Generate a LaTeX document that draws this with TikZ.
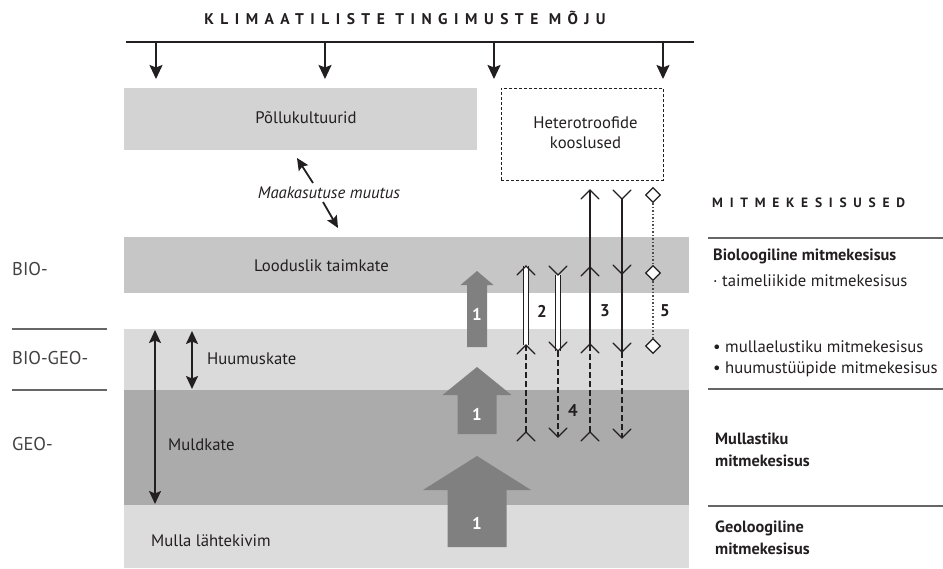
\documentclass[tikz,border=0pt]{standalone}
\usepackage{fontspec}
\setmainfont{PT Sans}
\usetikzlibrary{arrows.meta,shapes.geometric}
\definecolor{gPol}{HTML}{D3D3D3}
\definecolor{gLoo}{HTML}{C6C6C6}
\definecolor{gHuu}{HTML}{DADADA}
\definecolor{gMul}{HTML}{ABABAB}
\definecolor{gLah}{HTML}{DCDCDC}
\definecolor{gArr}{HTML}{808080}
\definecolor{ink}{HTML}{231F20}
\definecolor{rule}{HTML}{666666}
\begin{document}
\begin{tikzpicture}[x=1pt,y=-1pt,
  lbl/.style={font=\fontsize{16.7}{20}\selectfont, text=ink, inner sep=0pt},
  blbl/.style={font=\fontsize{16.3}{22}\bfseries\selectfont, text=ink, inner sep=0pt, align=left},
  side/.style={font=\fontsize{18.5}{20}\selectfont, text=ink!85, inner sep=0pt, anchor=west},
  num/.style={font=\fontsize{17}{18}\bfseries\selectfont, text=ink, inner sep=0pt},
  one/.style={font=\fontsize{17}{18}\bfseries\selectfont, text=white, inner sep=0pt},
  band/.style={inner sep=0pt, outer sep=0pt, anchor=north west},
  solidarr/.style={line width=1.9pt, ink, -{Stealth[length=14pt,width=13pt,inset=2.5pt]}},
  twoarr/.style={line width=1.8pt, ink, {Stealth[length=13pt,width=12pt,inset=2.5pt]}-{Stealth[length=13pt,width=12pt,inset=2.5pt]}},
  thin/.style={line width=1.3pt, ink},
  dbl/.style={line width=1.3pt, ink, double=white, double distance=3.5pt},
  dsh/.style={line width=1.3pt, ink, dash pattern=on 6pt off 3pt},
  dot/.style={line width=1.2pt, ink!80, dash pattern=on 1.5pt off 2pt},
  dia/.style={diamond, draw=ink, line width=1.3pt, fill=white, inner sep=0pt, minimum width=15pt, minimum height=15pt},
  bigarr/.style={fill=gArr, draw=none},
  sep/.style={line width=1.4pt, rule},
  upbarb/.pic={\draw[thin, line cap=round, line join=miter] (-9,9) -- (0,0) -- (9,9);},
  dnbarb/.pic={\draw[thin, line cap=round, line join=miter] (-9,-9) -- (0,0) -- (9,-9);}
]
\useasboundingbox (0,0) rectangle (943,568);

% ---- bands ----
\node[band, fill=gPol, minimum width=353pt, minimum height=62pt] (pol) at (124,88) {};
\node[lbl] (poltxt) at (306,118) {Põllukultuurid};
\node[band, fill=gLoo, minimum width=565pt, minimum height=56pt] (loo) at (124,237) {};
\node[band, fill=gHuu, minimum width=565pt, minimum height=61pt] (huu) at (124,329) {};
\node[band, fill=gMul, minimum width=565pt, minimum height=115pt] (mul) at (124,390) {};
\node[band, fill=gLah, minimum width=565pt, minimum height=63pt] (lah) at (124,505) {};
\node[lbl] (lootxt) at (321.5,266) {Looduslik taimkate};
\node[lbl, anchor=west] (huutxt) at (207,359) {Huumuskate};
\node[lbl, anchor=west] (multxt) at (168,445) {Muldkate};
\node[lbl, anchor=west] (lahtxt) at (151,541) {Mulla lähtekivim};

% ---- heterotroofide ----
\node[draw=ink, line width=0.9pt, dash pattern=on 3pt off 2pt, minimum width=162pt, minimum height=92pt, inner sep=0pt, anchor=north west] (het) at (501,88) {};
\node[lbl, align=center, font=\fontsize{16.7}{20}\selectfont] (hettxt) at (585.5,132.5) {Heterotroofide\\kooslused};

% ---- title and climate arrows ----
\node[font=\fontsize{15.5}{18}\bfseries\addfontfeatures{LetterSpace=42}\selectfont, text=ink, inner sep=0pt] (title) at (405,18) {KLIMAATILISTE TINGIMUSTE MÕJU};
\coordinate (tl) at (126,42);
\coordinate (tr) at (694,42);
\draw[line width=2.4pt, ink] (tl) -- (tr);
\foreach \x/\n in {156/a,325/b,494/c,663/d}{
  \coordinate (top\n) at (\x,42);
  \coordinate (tip\n) at (\x,79);
  \draw[solidarr] (top\n) -- (tip\n);
}

% ---- land use change ----
\node[lbl, font=\fontsize{16.7}{20}\itshape\selectfont] (maa) at (329,193) {Maakasutuse muutus};
\coordinate (m1a) at (313,183); \coordinate (m1b) at (297,158);
\coordinate (m2a) at (323,202); \coordinate (m2b) at (338,228);
\draw[line width=1.8pt, ink, -{Stealth[length=12pt,width=11pt,inset=2pt]}] (m1a) -- (m1b);
\draw[line width=1.8pt, ink, -{Stealth[length=12pt,width=11pt,inset=2pt]}] (m2a) -- (m2b);

% ---- left soil arrows ----
\coordinate (md1) at (155,330); \coordinate (md2) at (155,504);
\coordinate (hu1) at (192,331); \coordinate (hu2) at (192,389);
\draw[twoarr] (md1) -- (md2);
\draw[twoarr] (hu1) -- (hu2);

% ---- big arrows 1 ----
\fill[bigarr] (477,271) -- (493.5,285) -- (487,285) -- (487,347) -- (467,347) -- (467,285) -- (460.5,285) -- cycle;
\fill[bigarr] (477,367) -- (511.5,395) -- (496.5,395) -- (496.5,434) -- (457.5,434) -- (457.5,395) -- (442.5,395) -- cycle;
\fill[bigarr] (477,456) -- (531,490) -- (506.5,490) -- (506.5,547) -- (447.5,547) -- (447.5,490) -- (423,490) -- cycle;
\node[one] (one1) at (477,314) {1};
\node[one] (one2) at (477,414) {1};
\node[one] (one3) at (477,523) {1};

% ---- arrows 2 ----
\coordinate (a2t) at (526,266); \coordinate (a2m) at (526,345); \coordinate (a2b) at (526,432);
\draw[dbl] (a2m) -- (a2t);
\draw[dsh] (a2b) -- (a2m);
\pic at (a2t) {upbarb};
\pic at (a2m) {upbarb};
\pic at (a2b) {upbarb};
\coordinate (b2t) at (558,275); \coordinate (b2m) at (558,351); \coordinate (b2b) at (558,437);
\draw[dbl] (b2t) -- (b2m);
\draw[dsh] (b2m) -- (b2b);
\pic at (b2t) {dnbarb};
\pic at (b2m) {dnbarb};
\pic at (b2b) {dnbarb};

% ---- arrows 3 ----
\coordinate (a3t) at (590,190); \coordinate (a3u) at (590,267); \coordinate (a3m) at (590,344); \coordinate (a3b) at (590,432);
\draw[thin] (a3m) -- (a3t);
\draw[dsh] (a3b) -- (a3m);
\foreach \c in {a3t,a3u,a3m,a3b} \pic at (\c) {upbarb};
\coordinate (b3t) at (622,199); \coordinate (b3u) at (622,274); \coordinate (b3m) at (622,352); \coordinate (b3b) at (622,438);
\draw[thin] (b3t) -- (b3m);
\draw[dsh] (b3m) -- (b3b);
\foreach \c in {b3t,b3u,b3m,b3b} \pic at (\c) {dnbarb};

% ---- line 5 ----
\node[dia] (d1) at (653,195) {};
\node[dia] (d2) at (653,273) {};
\node[dia] (d3) at (653,346) {};
\draw[dot] (d1) -- (d2) -- (d3);

% ---- numbers ----
\node[num] (n2) at (542,311) {2};
\node[num] (n3) at (605,311) {3};
\node[num] (n5) at (665,311) {5};
\node[num] (n4) at (573,411) {4};

% ---- left labels ----
\node[side] (bio) at (12,269) {BIO-};
\node[side] (biogeo) at (12,358) {BIO-GEO-};
\node[side] (geo) at (12,444) {GEO-};
\coordinate (l1a) at (12,329); \coordinate (l1b) at (107,329);
\coordinate (l2a) at (12,390); \coordinate (l2b) at (107,390);
\draw[sep] (l1a) -- (l1b);
\draw[sep] (l2a) -- (l2b);

% ---- right labels ----
\node[font=\fontsize{13.5}{15}\bfseries\addfontfeatures{LetterSpace=50}\selectfont, text=ink, inner sep=0pt, anchor=west] (mit) at (712,203) {MITMEKESISUSED};
\coordinate (r1a) at (708,238); \coordinate (r1b) at (943,238);
\coordinate (r2a) at (708,389); \coordinate (r2b) at (943,389);
\coordinate (r3a) at (708,506); \coordinate (r3b) at (943,506);
\draw[sep] (r1a) -- (r1b);
\draw[sep] (r2a) -- (r2b);
\draw[sep] (r3a) -- (r3b);
\node[blbl, anchor=west] (bioml) at (713,256) {Bioloogiline mitmekesisus};
\node[lbl, anchor=west] (taim) at (713,281) {· taimeliikide mitmekesisus};
\node[lbl, anchor=west] (mull) at (713,347) {• mullaelustiku mitmekesisus};
\node[lbl, anchor=west] (huum) at (713,369) {• huumustüüpide mitmekesisus};
\node[blbl, anchor=west] (mst) at (715,449.5) {Mullastiku\\mitmekesisus};
\node[blbl, anchor=west] (geol) at (715,538) {Geoloogiline\\mitmekesisus};
\end{tikzpicture}
\end{document}
